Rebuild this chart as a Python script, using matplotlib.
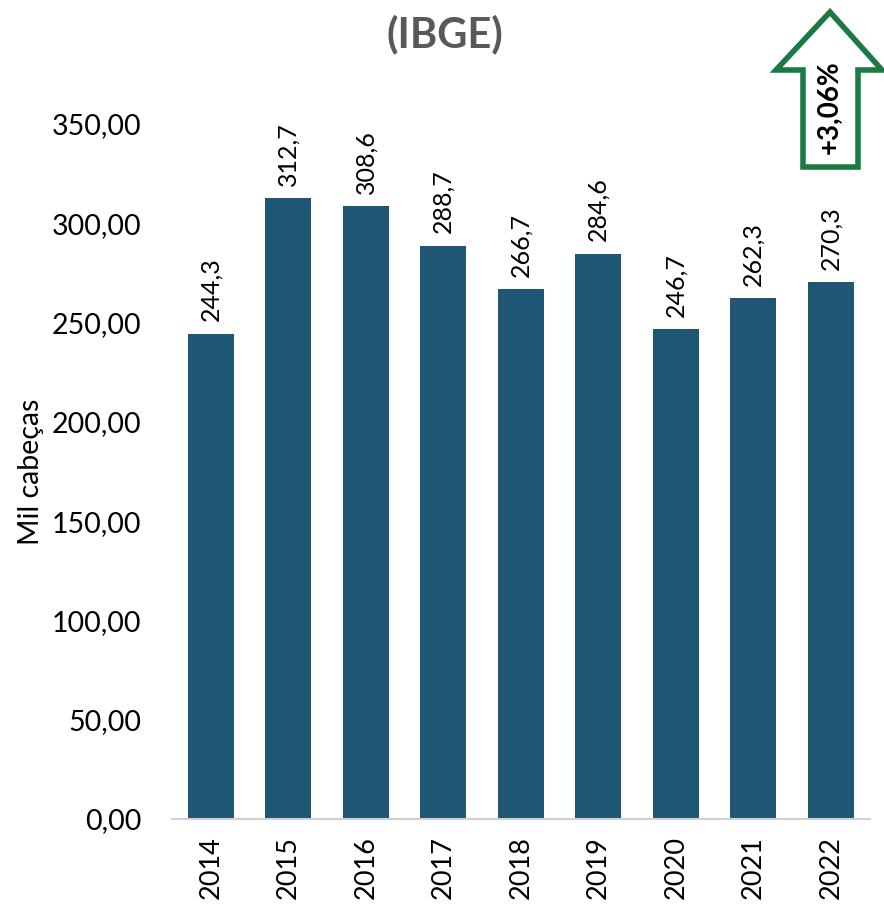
import numpy as np
import matplotlib.pyplot as plt
from matplotlib.patches import Polygon

plt.rcParams['font.family'] = ['Lato', 'DejaVu Sans']

anos = ['2014', '2015', '2016', '2017', '2018', '2019', '2020', '2021', '2022']
rebanho = [244.3, 312.7, 308.6, 288.7, 266.7, 284.6, 246.7, 262.3, 270.3]
rotulos = ['244,3', '312,7', '308,6', '288,7', '266,7', '284,6', '246,7', '262,3', '270,3']
variacao = '+3,06%'

fig = plt.figure(figsize=(8.84, 9.05), dpi=100)
ax = fig.add_axes([0.1946, 0.095, 0.789, 0.768])

x = np.arange(len(anos))
ax.bar(x, rebanho, width=0.59, color='#1F5673', zorder=2)
for xi, v, r in zip(x, rebanho, rotulos):
    ax.annotate(r, (xi, v), xytext=(0, 9), textcoords='offset points',
                rotation=90, ha='center', va='bottom', fontsize=18, color='black')

ax.set_xlim(-0.5, len(anos) - 0.5)
ax.set_ylim(0, 350)
ax.set_yticks(np.arange(0, 351, 50))
ax.set_yticklabels([f'{v:.2f}'.replace('.', ',') for v in np.arange(0, 351, 50)], fontsize=20.5)
ax.set_xticks(x)
ax.set_xticklabels(anos, rotation=90, fontsize=19.5)
ax.tick_params(length=0, pad=12)
ax.tick_params(axis='y', pad=22)
for s in ['top', 'right', 'left']:
    ax.spines[s].set_visible(False)
ax.spines['bottom'].set_color('#D0D0D0')
ax.spines['bottom'].set_linewidth(1.5)
ax.set_ylabel('Mil cabeças', fontsize=20.5, labelpad=6)

fig.text(0.503, 0.962, '(IBGE)', ha='center', va='center', fontsize=30,
         fontweight='bold', color='#595959')

# seta de variacao
W, H = 884, 905
pts = [(830, 12), (882, 70), (858, 70), (858, 167), (803, 167), (803, 70), (776, 70)]
seta = Polygon([(px / W, 1 - py / H) for px, py in pts], closed=True,
               transform=fig.transFigure, facecolor='white', edgecolor='#1B7A43', linewidth=4)
fig.patches.append(seta)
fig.text(830 / W, 1 - 107 / H, variacao, rotation=90, ha='center', va='center',
         fontsize=20, fontweight='bold', color='black')

plt.savefig('out.png', dpi=100)
